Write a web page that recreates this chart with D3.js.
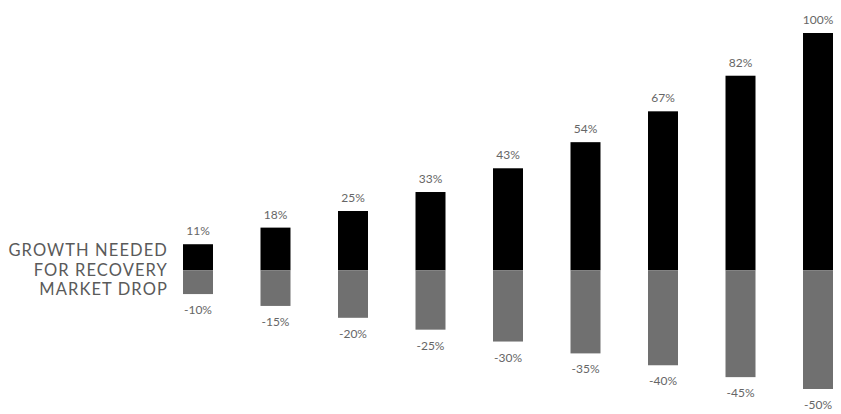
<!DOCTYPE html>
<html>
<head>
<meta charset="utf-8">
<script src="https://cdn.jsdelivr.net/npm/d3@7"></script>
<style>
  body { margin: 0; background: #fff; }
  text { font-family: Lato, "Open Sans", sans-serif; }
</style>
</head>
<body>
<div id="chart"></div>
<script>
var drops = [-10, -15, -20, -25, -30, -35, -40, -45, -50];
var recovery = [11, 18, 25, 33, 43, 54, 67, 82, 100];
var legendLines = ["GROWTH NEEDED", "FOR RECOVERY", "MARKET DROP"];

var width = 841, height = 414;

var svg = d3.select("#chart").append("svg")
  .attr("width", width)
  .attr("height", height);

var x = d3.scaleBand()
  .domain(d3.range(drops.length))
  .range([183, 833])
  .paddingInner(0.613)
  .paddingOuter(0);

var y = d3.scaleLinear()
  .domain([-50, 100])
  .range([389, 33]);

// growth bars (black, above baseline)
svg.selectAll(".up")
  .data(recovery)
  .enter()
  .append("rect")
  .attr("class", "up")
  .attr("x", function(d, i) { return x(i); })
  .attr("y", function(d) { return y(d); })
  .attr("width", x.bandwidth())
  .attr("height", function(d) { return y(0) - y(d); })
  .attr("fill", "#000");

// drop bars (gray, below baseline)
svg.selectAll(".down")
  .data(drops)
  .enter()
  .append("rect")
  .attr("class", "down")
  .attr("x", function(d, i) { return x(i); })
  .attr("y", y(0))
  .attr("width", x.bandwidth())
  .attr("height", function(d) { return y(d) - y(0); })
  .attr("fill", "#707070");

svg.selectAll(".upLabel")
  .data(recovery)
  .enter()
  .append("text")
  .attr("class", "upLabel")
  .attr("x", function(d, i) { return x(i) + x.bandwidth() / 2; })
  .attr("y", function(d) { return y(d) - 9; })
  .attr("text-anchor", "middle")
  .attr("font-size", 12)
  .attr("fill", "#666")
  .text(function(d) { return d + "%"; });

svg.selectAll(".downLabel")
  .data(drops)
  .enter()
  .append("text")
  .attr("class", "downLabel")
  .attr("x", function(d, i) { return x(i) + x.bandwidth() / 2; })
  .attr("y", function(d) { return y(d) + 20; })
  .attr("text-anchor", "middle")
  .attr("font-size", 12)
  .attr("fill", "#666")
  .text(function(d) { return d + "%"; });

svg.selectAll(".legend")
  .data(legendLines)
  .enter()
  .append("text")
  .attr("class", "legend")
  .attr("x", 168)
  .attr("y", function(d, i) { return 256 + i * 19.5; })
  .attr("text-anchor", "end")
  .attr("font-size", 16.5)
  .attr("letter-spacing", 1.1)
  .attr("fill", "#5a5a5a")
  .text(function(d) { return d; });
</script>
</body>
</html>
